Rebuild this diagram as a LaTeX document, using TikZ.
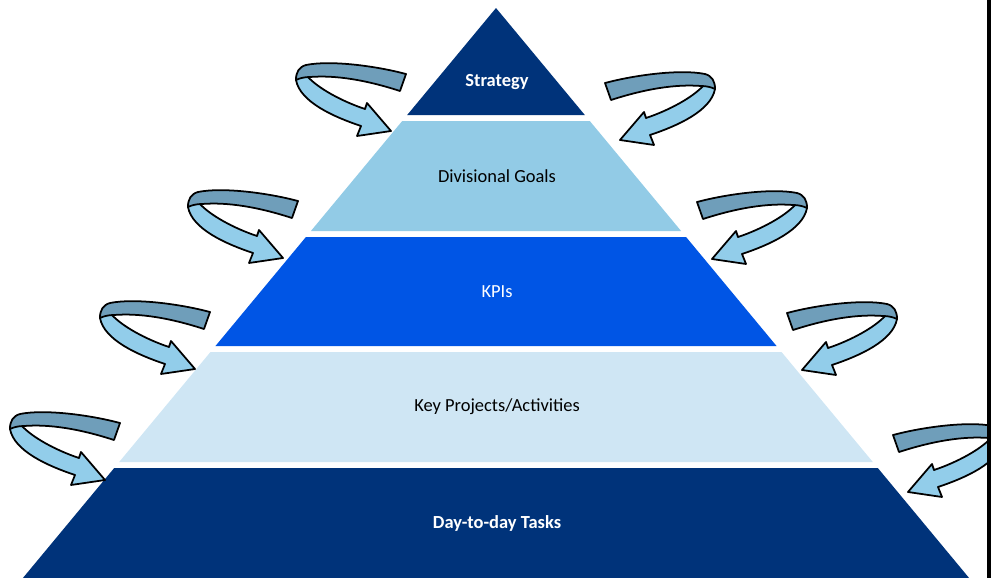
\documentclass[tikz,border=0pt]{standalone}
\usepackage{fontspec}
\setmainfont{Carlito}
\usetikzlibrary{calc}
\definecolor{navy}{RGB}{0,51,122}
\definecolor{skyband}{RGB}{146,203,230}
\definecolor{kpiblue}{RGB}{0,85,229}
\definecolor{paleband}{RGB}{207,230,244}
\definecolor{ribbonback}{RGB}{111,158,186}
\definecolor{ribbonfront}{RGB}{146,205,234}
\tikzset{
  ribbon/.style={draw=black,line width=1pt,line join=round},
  tierlabel/.style={font=\fontsize{10.5}{12}\selectfont,inner sep=0pt}
}
% one curled arrow, origin at the upper corner of its tail
\newcommand{\curlarrow}{%
\filldraw[ribbon,fill=ribbonfront](-98,3) .. controls (-88,14) and (-65,27) .. (-41,35) -- (-39,29) -- (-15,57) -- (-49,62) -- (-45,52) .. controls (-72,43) and (-106,28) .. (-110,6) .. controls (-110,0) and (-106,-4) .. (-102,-5) -- cycle;
\filldraw[ribbon,fill=ribbonback](0,0) .. controls (-30,-8) and (-75,-14) .. (-100,-9) .. controls (-107,-7) and (-110,-2) .. (-110,6) .. controls (-106,4) and (-101,3) .. (-96,3) .. controls (-70,1) and (-40,6) .. (-6,17) -- cycle;}

\begin{document}
\begin{tikzpicture}[x=0.02cm,y=-0.02cm,line join=round]
\clip (0,0) rectangle (991,578);
\def\cx{496}
\def\k{0.83}
\foreach \t/\b/\c in {8/115/navy,121/231/skyband,237/346/kpiblue,352/462/paleband,468/578/navy}{
  \fill[\c] ({\cx-\k*(\t-8)},\t) -- ({\cx+\k*(\t-8)},\t) -- ({\cx+\k*(\b-8)},\b) -- ({\cx-\k*(\b-8)},\b) -- cycle;}
\node[tierlabel,text=white,font=\fontsize{10.5}{12}\selectfont\bfseries] (strategy) at (497,82) {Strategy};
\node[tierlabel] (goals) at (497,176) {Divisional Goals};
\node[tierlabel,text=white] (kpis) at (497,292) {KPIs};
\node[tierlabel] (projects) at (497,407) {Key Projects/Activities};
\node[tierlabel,text=white,font=\fontsize{10.5}{12}\selectfont\bfseries] (tasks) at (497,523) {Day-to-day Tasks};
\foreach \x/\y in {406/74,298/201,210/312,120/423}{
  \begin{scope}[shift={(\x,\y)}]\curlarrow\end{scope}}
\foreach \x/\y in {605/83,697/202,787/313,893/435}{
  \begin{scope}[shift={(\x,\y)},xscale=-1]\curlarrow\end{scope}}
\fill (986.7,0) rectangle (991,578);
\end{tikzpicture}
\end{document}
